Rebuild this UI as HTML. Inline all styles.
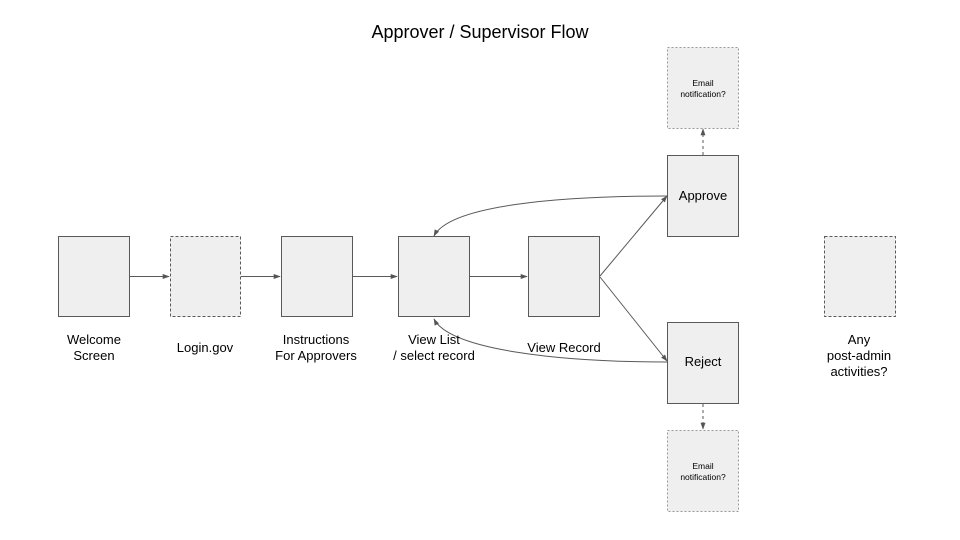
<!DOCTYPE html>
<html><head><meta charset="utf-8"><style>
html,body{margin:0;padding:0;background:#fff;}
svg{display:block;}
text{font-family:"Liberation Sans",Arial,sans-serif;fill:#000;}
</style></head><body>
<svg width="960" height="540" viewBox="0 0 960 540" xmlns="http://www.w3.org/2000/svg">
<defs>
<marker id="a" viewBox="0 0 10 10" refX="9" refY="5" markerWidth="7" markerHeight="7" orient="auto"><path d="M0,1.5 L10,5 L0,8.5 z" fill="#555"/></marker>
</defs>
<text x="480" y="38" font-size="18" text-anchor="middle">Approver / Supervisor Flow</text>
<g fill="#efefef" stroke="#595959" stroke-width="1">
<rect x="58.5" y="236.5" width="71" height="80"/>
<rect x="170.5" y="236.5" width="70" height="80" stroke-dasharray="3,2"/>
<rect x="281.5" y="236.5" width="71" height="80"/>
<rect x="398.5" y="236.5" width="71" height="80"/>
<rect x="528.5" y="236.5" width="71" height="80"/>
<rect x="667.5" y="155.5" width="71" height="81"/>
<rect x="667.5" y="322.5" width="71" height="81"/>
<rect x="667.5" y="47.5" width="71" height="81" stroke="#999" stroke-dasharray="2,2"/>
<rect x="667.5" y="430.5" width="71" height="81" stroke="#999" stroke-dasharray="2,2"/>
<rect x="824.5" y="236.5" width="71" height="80" stroke-dasharray="3,2"/>
</g>
<g stroke="#595959" stroke-width="1" fill="none" marker-end="url(#a)">
<line x1="130" y1="276.5" x2="169" y2="276.5"/>
<line x1="241" y1="276.5" x2="280" y2="276.5"/>
<line x1="353" y1="276.5" x2="397" y2="276.5"/>
<line x1="470" y1="276.5" x2="527" y2="276.5"/>
<line x1="600" y1="276" x2="667" y2="196"/>
<line x1="600" y1="277" x2="667" y2="361"/>
<path d="M667,196 C560,196 450,205 434,236"/>
<path d="M667,362 C560,362 450,350 434,319"/>
<line x1="703" y1="155" x2="703" y2="129" stroke-dasharray="3,3"/>
<line x1="703" y1="404" x2="703" y2="429" stroke-dasharray="3,3"/>
</g>
<g font-size="13" text-anchor="middle">
<text x="94" y="344">Welcome</text><text x="94" y="360">Screen</text>
<text x="205" y="352">Login.gov</text>
<text x="316" y="344">Instructions</text><text x="316" y="360">For Approvers</text>
<text x="434" y="344">View List</text><text x="434" y="360">/ select record</text>
<text x="564" y="352">View Record</text>
<text x="703" y="200">Approve</text>
<text x="703" y="366">Reject</text>
<text x="859" y="344">Any</text><text x="859" y="360">post-admin</text><text x="859" y="376">activities?</text>
</g>
<g font-size="8.5" text-anchor="middle">
<text x="703" y="86">Email</text><text x="703" y="97">notification?</text>
<text x="703" y="469">Email</text><text x="703" y="480">notification?</text>
</g>
</svg>
</body></html>
